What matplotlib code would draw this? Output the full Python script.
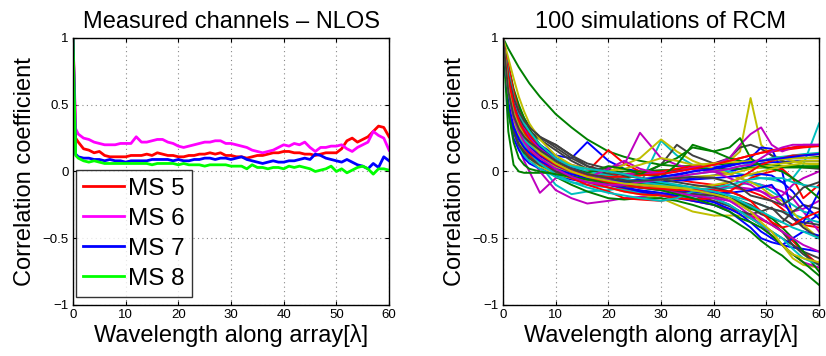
import numpy as np
import matplotlib
matplotlib.use("Agg")
import matplotlib.pyplot as plt

plt.rcParams['font.family'] = ['Liberation Sans', 'DejaVu Sans']

# ---- left panel: measured channels ----
x_meas = [0, 0.5] + list(range(1, 61))

ms5 = [1, 0.25, 0.22, 0.17, 0.16, 0.14, 0.15, 0.12, 0.11, 0.11, 0.11, 0.11, 0.12, 0.12, 0.12, 0.13,
       0.12, 0.14, 0.13, 0.12, 0.12, 0.11, 0.11, 0.12, 0.12, 0.13, 0.13, 0.14, 0.13, 0.14, 0.12,
       0.12, 0.11, 0.11, 0.10, 0.11, 0.12, 0.12, 0.13, 0.14, 0.14, 0.15, 0.15, 0.14, 0.14, 0.13,
       0.13, 0.12, 0.13, 0.14, 0.14, 0.14, 0.17, 0.23, 0.25, 0.22, 0.24, 0.26, 0.30, 0.34, 0.33, 0.26]
ms6 = [1, 0.32, 0.28, 0.25, 0.24, 0.22, 0.21, 0.20, 0.20, 0.20, 0.21, 0.21, 0.21, 0.26, 0.22, 0.22,
       0.23, 0.24, 0.24, 0.22, 0.21, 0.19, 0.18, 0.19, 0.20, 0.21, 0.22, 0.22, 0.23, 0.23, 0.21,
       0.21, 0.20, 0.19, 0.18, 0.16, 0.15, 0.14, 0.15, 0.16, 0.18, 0.20, 0.19, 0.21, 0.20, 0.22,
       0.18, 0.15, 0.18, 0.18, 0.19, 0.19, 0.20, 0.17, 0.15, 0.18, 0.20, 0.22, 0.30, 0.27, 0.25, 0.16]
ms7 = [1, 0.13, 0.11, 0.10, 0.10, 0.09, 0.09, 0.08, 0.09, 0.08, 0.08, 0.07, 0.08, 0.08, 0.08, 0.08,
       0.09, 0.09, 0.09, 0.09, 0.08, 0.09, 0.08, 0.08, 0.09, 0.09, 0.10, 0.10, 0.09, 0.10, 0.10,
       0.09, 0.10, 0.11, 0.09, 0.08, 0.07, 0.06, 0.07, 0.08, 0.07, 0.07, 0.08, 0.08, 0.09, 0.10,
       0.09, 0.13, 0.12, 0.10, 0.09, 0.08, 0.07, 0.09, 0.07, 0.05, 0.04, 0.02, 0.06, 0.03, 0.11, 0.08]
ms8 = [1, 0.12, 0.10, 0.08, 0.07, 0.08, 0.07, 0.06, 0.06, 0.06, 0.06, 0.06, 0.06, 0.06, 0.06, 0.06,
       0.05, 0.06, 0.06, 0.06, 0.06, 0.05, 0.06, 0.05, 0.05, 0.05, 0.04, 0.05, 0.05, 0.05, 0.05,
       0.04, 0.04, 0.04, 0.02, 0.05, 0.03, 0.03, 0.02, 0.03, 0.03, 0.02, 0.04, 0.03, 0.04, 0.03,
       0.02, 0.00, 0.01, 0.02, 0.04, 0.00, 0.02, -0.01, 0.01, 0.03, 0.04, 0.02, -0.02, 0.02, 0.02, 0.01]

meas_labels = ["MS 5", "MS 6", "MS 7", "MS 8"]
meas_colors = ["#ff0000", "#ff00ff", "#0000ff", "#00ff00"]

# ---- right panel: simulated channels (a subset of the 100 runs) ----
x_sim = [0, 1, 2, 3, 4, 5, 7, 10, 13, 16, 20, 23, 26, 30, 33, 36, 40, 43, 45, 47, 49, 51, 53, 55, 57, 60]

sim_runs = [
    [1, 0.62, 0.45, 0.38, 0.33, 0.28, 0.2, 0.12, 0.1, 0.22, 0.08, 0.02, 0.0, -0.02, -0.05, -0.05, -0.03, 0.0, 0.02, 0.04, 0.06, 0.07, 0.07, 0.08, 0.08, 0.08],
    [1, 0.92, 0.85, 0.78, 0.72, 0.66, 0.56, 0.43, 0.33, 0.24, 0.15, 0.11, 0.08, 0.05, 0.04, 0.04, 0.05, 0.06, 0.07, 0.08, 0.08, 0.09, 0.09, 0.1, 0.1, 0.11],
    [1, 0.75, 0.55, 0.42, 0.33, 0.27, 0.17, 0.08, 0.03, 0.0, 0.16, 0.06, 0.0, -0.04, -0.06, -0.08, -0.1, -0.12, -0.13, -0.15, -0.18, -0.22, -0.28, -0.35, -0.4, -0.42],
    [1, 0.55, 0.35, 0.25, 0.18, 0.12, 0.05, -0.1, -0.17, -0.15, -0.14, -0.12, -0.1, 0.23, 0.12, 0.05, 0.02, 0.0, -0.02, -0.03, -0.05, -0.06, -0.08, -0.05, 0.05, 0.36],
    [1, 0.5, 0.3, 0.18, 0.08, 0.0, -0.16, -0.05, -0.02, 0.0, 0.03, 0.05, 0.29, 0.1, 0.05, 0.02, 0.0, -0.02, -0.05, -0.08, -0.1, -0.12, -0.15, -0.2, -0.3, -0.45],
    [1, 0.6, 0.42, 0.32, 0.26, 0.2, 0.12, 0.05, 0.02, 0.0, -0.02, -0.02, -0.01, 0.0, 0.02, 0.03, 0.05, 0.08, 0.15, 0.55, 0.2, 0.12, 0.1, 0.08, 0.06, 0.05],
    [1, 0.7, 0.52, 0.42, 0.35, 0.3, 0.25, 0.2, 0.12, 0.06, 0.02, -0.02, -0.03, 0.05, 0.2, 0.12, 0.06, 0.1, 0.18, 0.2, 0.17, 0.12, 0.08, 0.05, 0.03, 0.02],
    [1, 0.58, 0.4, 0.3, 0.24, 0.2, 0.12, 0.03, -0.02, -0.05, -0.06, -0.07, -0.06, -0.05, -0.03, 0.0, 0.03, 0.05, 0.06, 0.1, 0.18, 0.17, 0.0, -0.35, -0.4, -0.32],
    [1, 0.3, 0.05, 0.0, -0.01, -0.01, -0.01, -0.01, -0.01, -0.01, -0.01, 0.0, 0.0, 0.01, 0.01, 0.02, 0.02, 0.02, 0.02, 0.03, 0.03, 0.03, 0.03, 0.03, 0.03, 0.03],
    [1, 0.68, 0.48, 0.37, 0.3, 0.24, 0.15, 0.05, -0.02, -0.06, -0.1, -0.13, -0.15, -0.17, -0.19, -0.22, -0.25, -0.28, -0.3, -0.33, -0.36, -0.4, -0.45, -0.52, -0.6, -0.7],
    [1, 0.72, 0.55, 0.43, 0.35, 0.28, 0.18, 0.06, 0.0, -0.04, -0.07, -0.09, -0.1, -0.1, -0.11, -0.12, -0.15, -0.18, -0.2, -0.22, -0.25, -0.28, -0.3, -0.32, -0.35, -0.38],
    [1, 0.62, 0.4, 0.28, 0.2, 0.12, 0.0, -0.14, -0.2, -0.24, -0.22, -0.2, -0.19, -0.17, -0.15, -0.14, -0.13, -0.12, -0.12, -0.13, -0.15, -0.18, -0.25, -0.3, -0.28, -0.22],
    [1, 0.7, 0.5, 0.38, 0.3, 0.24, 0.15, 0.05, -0.02, -0.08, -0.12, -0.15, -0.17, -0.2, -0.25, -0.3, -0.33, -0.33, -0.33, -0.35, -0.4, -0.45, -0.55, -0.65, -0.7, -0.72],
    [1, 0.65, 0.48, 0.38, 0.33, 0.28, 0.2, 0.1, 0.03, -0.02, -0.06, -0.08, -0.1, -0.12, -0.15, -0.18, -0.22, -0.26, -0.3, -0.35, -0.4, -0.45, -0.5, -0.55, -0.6, -0.65],
    [1, 0.45, 0.25, 0.16, 0.1, 0.06, 0.02, -0.03, -0.06, -0.08, -0.1, -0.12, -0.14, -0.16, -0.18, -0.2, -0.23, -0.28, -0.32, -0.38, -0.45, -0.5, -0.55, -0.57, -0.58, -0.6],
    [1, 0.6, 0.4, 0.28, 0.2, 0.14, 0.06, -0.04, -0.1, -0.15, -0.2, -0.21, -0.2, -0.2, -0.22, -0.25, -0.3, -0.35, -0.4, -0.45, -0.52, -0.58, -0.63, -0.7, -0.75, -0.85],
    [1, 0.55, 0.35, 0.24, 0.17, 0.12, 0.06, 0.0, -0.02, -0.03, -0.03, -0.02, -0.01, 0.0, 0.02, 0.04, 0.06, 0.08, 0.1, 0.12, 0.14, 0.15, 0.16, 0.17, 0.18, 0.19],
    [1, 0.5, 0.3, 0.2, 0.12, 0.08, 0.02, -0.04, -0.08, -0.1, -0.12, -0.14, -0.16, -0.18, -0.2, -0.18, -0.15, -0.12, -0.1, -0.08, -0.1, -0.15, -0.2, -0.25, -0.3, -0.33],
    [1, 0.72, 0.52, 0.4, 0.32, 0.26, 0.18, 0.1, 0.05, 0.02, 0.0, -0.02, -0.02, -0.01, 0.0, 0.03, 0.05, 0.1, 0.2, 0.28, 0.33, 0.2, 0.15, 0.18, 0.2, 0.2],
    [1, 0.65, 0.47, 0.36, 0.28, 0.22, 0.13, 0.04, 0.0, -0.02, 0.0, 0.05, 0.1, 0.24, 0.15, 0.08, 0.02, -0.02, -0.05, -0.08, -0.12, -0.18, -0.22, -0.3, -0.4, -0.5],
    [1, 0.78, 0.6, 0.48, 0.4, 0.34, 0.26, 0.2, 0.12, 0.04, -0.02, -0.05, -0.08, -0.1, -0.12, -0.14, -0.17, -0.2, -0.23, -0.27, -0.32, -0.35, -0.38, -0.3, -0.25, -0.28],
    [1, 0.6, 0.42, 0.33, 0.28, 0.25, 0.18, 0.1, 0.04, -0.02, -0.08, -0.12, -0.15, -0.18, -0.2, -0.22, -0.25, -0.3, -0.36, -0.42, -0.5, -0.53, -0.55, -0.5, -0.45, -0.48],
    [1, 0.8, 0.62, 0.5, 0.4, 0.32, 0.2, 0.08, 0.02, -0.02, -0.04, -0.05, -0.02, 0.05, 0.1, 0.18, 0.15, 0.1, 0.08, 0.06, 0.05, 0.05, 0.04, 0.04, 0.04, 0.04],
    [1, 0.8, 0.6, 0.45, 0.35, 0.28, 0.17, 0.05, -0.03, -0.08, -0.12, -0.15, -0.17, -0.18, -0.2, -0.21, -0.2, -0.15, -0.1, -0.05, -0.02, 0.0, 0.02, -0.05, -0.2, -0.1],
    [1, 0.62, 0.42, 0.3, 0.22, 0.16, 0.08, 0.0, -0.04, -0.06, -0.07, -0.07, -0.06, -0.05, -0.04, -0.02, 0.0, 0.02, 0.04, 0.06, 0.08, 0.1, 0.11, 0.12, 0.13, 0.14],
    [1, 0.58, 0.38, 0.27, 0.2, 0.15, 0.08, 0.0, -0.05, -0.08, -0.1, -0.11, -0.12, -0.12, -0.13, -0.15, -0.18, -0.22, -0.27, -0.33, -0.4, -0.48, -0.55, -0.62, -0.68, -0.72],
    [1, 0.52, 0.32, 0.22, 0.15, 0.1, 0.04, -0.02, -0.05, -0.07, -0.08, -0.08, -0.07, -0.06, -0.05, -0.04, -0.03, -0.02, 0.0, 0.02, 0.03, 0.05, 0.06, 0.07, 0.08, 0.08],
    [1, 0.68, 0.5, 0.4, 0.34, 0.3, 0.24, 0.16, 0.08, 0.02, -0.03, -0.06, -0.08, -0.1, -0.13, -0.16, -0.2, -0.25, -0.3, -0.32, -0.3, -0.27, -0.35, -0.4, -0.38, -0.4],
    [1, 0.7, 0.5, 0.38, 0.3, 0.25, 0.18, 0.08, 0.02, -0.03, -0.06, -0.07, -0.08, -0.08, -0.07, -0.06, -0.05, -0.04, -0.03, -0.02, -0.02, -0.03, -0.08, -0.15, -0.25, -0.35],
    [1, 0.5, 0.3, 0.2, 0.14, 0.1, 0.05, 0.0, -0.03, -0.05, -0.07, -0.08, -0.09, -0.09, -0.1, -0.12, -0.15, -0.2, -0.24, -0.28, -0.3, -0.35, -0.42, -0.5, -0.6, -0.75],
    [1, 0.6, 0.42, 0.3, 0.22, 0.16, 0.08, 0.0, -0.05, -0.1, -0.15, -0.2, -0.21, -0.22, -0.2, -0.16, -0.12, -0.08, -0.05, 0.0, 0.05, 0.08, 0.1, 0.12, 0.12, 0.13],
    [1, 0.75, 0.56, 0.44, 0.36, 0.3, 0.2, 0.1, 0.04, 0.0, -0.03, -0.05, -0.08, -0.1, -0.12, -0.15, -0.2, -0.25, -0.3, -0.35, -0.4, -0.45, -0.5, -0.58, -0.65, -0.7],
    [1, 0.65, 0.45, 0.34, 0.26, 0.2, 0.1, 0.02, -0.02, -0.05, 0.02, 0.08, 0.02, -0.02, 0.0, 0.02, 0.0, -0.05, -0.08, -0.1, -0.15, -0.2, -0.18, -0.1, -0.05, 0.0],
    [1, 0.85, 0.7, 0.56, 0.45, 0.36, 0.24, 0.12, 0.05, 0.02, 0.0, 0.02, 0.05, 0.1, 0.08, 0.05, 0.06, 0.07, 0.07, 0.08, 0.08, 0.09, 0.09, 0.1, 0.1, 0.1],
    [1, 0.5, 0.3, 0.2, 0.15, 0.1, 0.05, 0.0, -0.04, -0.06, -0.09, -0.11, -0.12, -0.14, -0.15, -0.17, -0.18, -0.2, -0.22, -0.25, -0.3, -0.38, -0.45, -0.55, -0.62, -0.7],
    [1, 0.55, 0.36, 0.27, 0.22, 0.18, 0.12, 0.04, -0.02, -0.05, -0.08, -0.1, -0.12, -0.13, -0.14, -0.15, -0.16, -0.16, -0.15, -0.14, -0.12, -0.1, -0.2, -0.35, -0.38, -0.15],
    [1, 0.66, 0.47, 0.36, 0.29, 0.24, 0.16, 0.07, 0.02, -0.01, 0.04, 0.02, -0.02, -0.04, 0.05, 0.2, 0.15, 0.18, 0.25, 0.1, 0.04, 0.02, 0.0, -0.05, -0.1, -0.2],
    [1, 0.62, 0.44, 0.33, 0.26, 0.21, 0.13, 0.05, 0.0, -0.03, -0.04, -0.04, -0.03, -0.02, 0.0, 0.02, 0.05, 0.08, 0.1, 0.12, 0.14, 0.16, 0.17, 0.18, 0.19, 0.2],
    [1, 0.58, 0.38, 0.28, 0.2, 0.14, 0.06, -0.02, -0.08, -0.12, -0.16, -0.18, -0.2, -0.22, -0.2, -0.15, -0.12, -0.1, -0.08, -0.06, -0.05, -0.05, -0.05, -0.08, -0.1, -0.12],
    [1, 0.68, 0.48, 0.38, 0.3, 0.25, 0.17, 0.08, 0.02, -0.02, -0.06, -0.1, -0.12, -0.14, -0.16, -0.18, -0.2, -0.22, -0.25, -0.3, -0.35, -0.4, -0.45, -0.5, -0.55, -0.6],
    [1, 0.58, 0.38, 0.28, 0.22, 0.17, 0.1, 0.03, -0.02, -0.05, -0.08, -0.1, -0.12, -0.12, -0.13, -0.12, -0.1, -0.08, -0.05, -0.02, 0.0, 0.02, 0.04, 0.05, 0.06, 0.06],
    [1, 0.72, 0.55, 0.45, 0.38, 0.33, 0.26, 0.18, 0.1, 0.04, 0.0, -0.03, -0.05, -0.06, -0.08, -0.1, -0.12, -0.15, -0.18, -0.22, -0.25, -0.28, -0.3, -0.35, -0.42, -0.5],
    [1, 0.52, 0.33, 0.24, 0.18, 0.14, 0.08, 0.02, -0.02, -0.05, -0.07, -0.08, -0.06, -0.04, -0.02, 0.0, 0.02, 0.04, 0.06, 0.07, 0.08, 0.09, 0.1, 0.11, 0.12, 0.13],
    [1, 0.45, 0.22, 0.1, 0.05, 0.02, 0.0, -0.02, -0.04, -0.06, -0.08, -0.1, -0.12, -0.14, -0.17, -0.2, -0.25, -0.3, -0.35, -0.38, -0.42, -0.48, -0.55, -0.62, -0.68, -0.78],
    [1, 0.7, 0.5, 0.38, 0.3, 0.24, 0.15, 0.06, 0.0, -0.04, -0.08, -0.1, -0.12, -0.13, -0.14, -0.14, -0.14, -0.15, -0.18, -0.22, -0.3, -0.38, -0.42, -0.4, -0.35, -0.3],
    [1, 0.6, 0.4, 0.3, 0.24, 0.2, 0.14, 0.08, 0.04, 0.02, 0.0, -0.02, -0.05, -0.08, -0.1, -0.12, -0.15, -0.18, -0.22, -0.26, -0.3, -0.34, -0.38, -0.42, -0.45, -0.5],
    [1, 0.6, 0.4, 0.3, 0.22, 0.17, 0.1, 0.02, -0.04, -0.08, -0.1, -0.1, -0.08, -0.06, -0.04, -0.02, 0.0, 0.02, 0.04, 0.05, 0.1, 0.15, 0.18, 0.2, 0.2, 0.2],
    [1, 0.62, 0.44, 0.34, 0.27, 0.22, 0.14, 0.06, 0.0, -0.04, -0.07, -0.09, -0.1, -0.11, -0.12, -0.14, -0.17, -0.2, -0.25, -0.3, -0.38, -0.45, -0.55, -0.62, -0.65, -0.68],
    [1, 0.6, 0.42, 0.32, 0.26, 0.22, 0.16, 0.08, 0.02, -0.02, -0.05, -0.07, -0.07, -0.06, -0.05, -0.04, -0.05, -0.08, -0.12, -0.18, -0.2, -0.22, -0.25, -0.2, -0.12, -0.08],
]

# old matlab colour order
sim_colors = [(0, 0, 1), (0, 0.5, 0), (1, 0, 0), (0, 0.75, 0.75),
              (0.75, 0, 0.75), (0.75, 0.75, 0), (0.25, 0.25, 0.25)]

xticks = [0, 10, 20, 30, 40, 50, 60]
yticks = [-1, -0.5, 0, 0.5, 1]
ytick_labels = ["\u22121", "\u22120.5", "0", "0.5", "1"]


def style_axes(ax, title):
    ax.set_xlim(0, 60)
    ax.set_ylim(-1, 1)
    ax.set_xticks(xticks)
    ax.set_yticks(yticks)
    ax.set_yticklabels(ytick_labels)
    ax.tick_params(direction='in', top=True, right=True, labelsize=9.5, length=3, pad=3)
    ax.grid(True, linestyle=(0, (1, 3)), color='#888888', linewidth=0.8)
    for sp in ax.spines.values():
        sp.set_linewidth(1.0)
    ax.set_title(title, fontsize=17, pad=7)
    ax.set_xlabel("Wavelength along array[\u03bb]", fontsize=17, labelpad=2)
    ax.set_ylabel("Correlation coefficient", fontsize=17, labelpad=5)


fig = plt.figure(figsize=(8.26, 3.56), dpi=100)
ax1 = fig.add_axes([0.0884, 0.1433, 0.3826, 0.75])
ax2 = fig.add_axes([0.609, 0.1433, 0.3826, 0.75])

for ys, lab, col in zip([ms5, ms6, ms7, ms8], meas_labels, meas_colors):
    ax1.plot(x_meas, ys, color=col, linewidth=2, label=lab)
style_axes(ax1, "Measured channels \u2013 NLOS")
leg = ax1.legend(loc='lower left', bbox_to_anchor=(0.01, 0.03), borderaxespad=0,
                 fontsize=17.5, frameon=True, fancybox=False, edgecolor='black',
                 handlelength=1.65, handletextpad=0.18, labelspacing=0.33, borderpad=0.3)
leg.get_frame().set_linewidth(1.0)

for i, ys in enumerate(sim_runs):
    ax2.plot(x_sim, ys, color=sim_colors[i % len(sim_colors)], linewidth=1.4)
style_axes(ax2, "100 simulations of RCM")

fig.savefig("out.png", dpi=100)
